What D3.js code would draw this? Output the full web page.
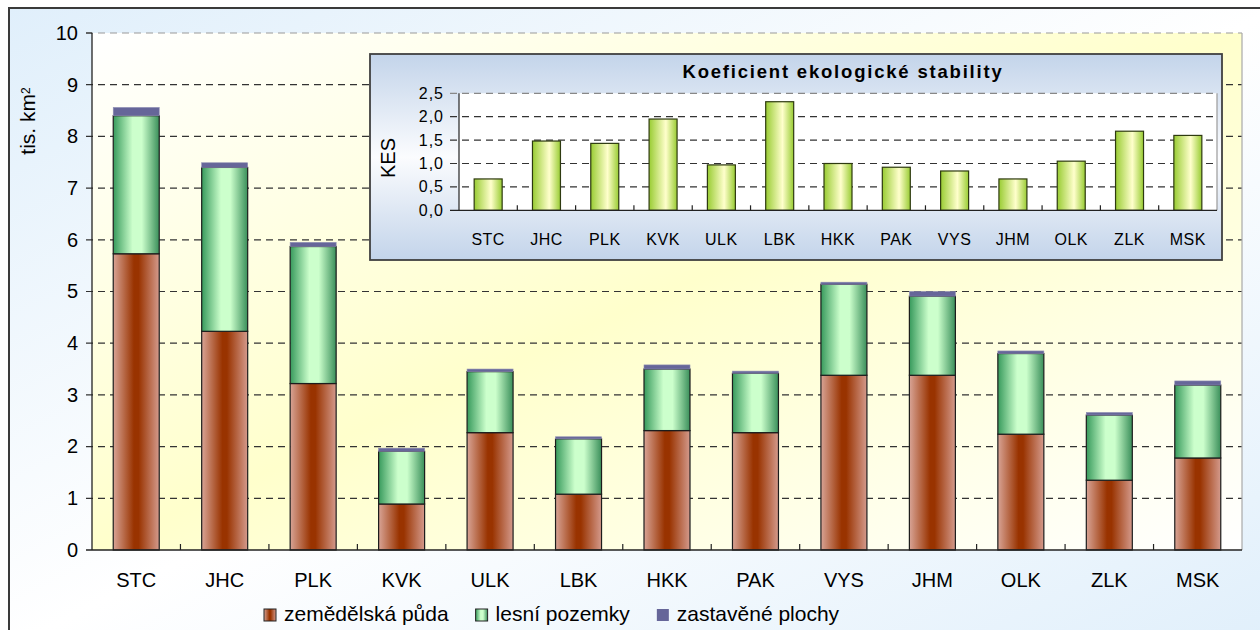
<!DOCTYPE html>
<html>
<head>
<meta charset="utf-8">
<script src="https://cdn.jsdelivr.net/npm/d3@7"></script>
<style>
  body { margin: 0; background: #fff; }
  text { font-family: "Liberation Sans", Arial, sans-serif; fill: #000; }
</style>
</head>
<body>
<svg id="svg" width="1260" height="630"></svg>
<script>
// regions (kraje) and land use, tis. km2
var kraje = ["STC", "JHC", "PLK", "KVK", "ULK", "LBK", "HKK", "PAK", "VYS", "JHM", "OLK", "ZLK", "MSK"];
var zemedelska = [5.73, 4.23, 3.22, 0.89, 2.27, 1.08, 2.31, 2.27, 3.38, 3.38, 2.24, 1.35, 1.78];
var lesni = [2.67, 3.17, 2.65, 1.02, 1.18, 1.07, 1.19, 1.15, 1.76, 1.53, 1.56, 1.26, 1.41];
var zastavene = [0.16, 0.09, 0.08, 0.06, 0.05, 0.04, 0.08, 0.04, 0.04, 0.09, 0.05, 0.05, 0.08];
var serie = ["zemědělská půda", "lesní pozemky", "zastavěné plochy"];
var yTicks = [0, 1, 2, 3, 4, 5, 6, 7, 8, 9, 10];

// koeficient ekologicke stability
var kes = [0.67, 1.48, 1.43, 1.95, 0.97, 2.32, 1.00, 0.92, 0.84, 0.67, 1.05, 1.69, 1.60];
var kesTicks = [0, 0.5, 1, 1.5, 2, 2.5];

var svg = d3.select("#svg");
var defs = svg.append("defs");

function grad(id, stops, x2, y2) {
  var g = defs.append("linearGradient").attr("id", id)
    .attr("x1", 0).attr("y1", 0).attr("x2", x2).attr("y2", y2);
  stops.forEach(function(s) {
    g.append("stop").attr("offset", s[0]).attr("stop-color", s[1]);
  });
}
grad("bgOuter", [[0, "#e0effb"], [0.5, "#ffffff"], [1, "#e0effb"]], 1, 1);
grad("bgPlot", [[0, "#ffffff"], [0.5, "#ffffcc"], [1, "#ffffff"]], 1, 1);
grad("bgInset", [[0, "#c3d4ea"], [0.5, "#fbfcfe"], [1, "#c3d4ea"]], 0, 1);
grad("gAgri", [[0, "#d8a496"], [0.45, "#993300"], [0.55, "#993300"], [1, "#d49a8c"]], 1, 0);
grad("gForest", [[0, "#379a5c"], [0.42, "#ccffcc"], [0.62, "#ccffcc"], [1, "#3a8f5a"]], 1, 0);
grad("gKes", [[0, "#99cc33"], [0.6, "#ffffcc"], [1, "#99cc33"]], 1, 0);

// outer background
svg.append("rect")
  .attr("x", 9).attr("y", 8).attr("width", 1270).attr("height", 640)
  .attr("fill", "url(#bgOuter)").attr("stroke", "#3a3a3a").attr("stroke-width", 2);

var pLeft = 92, pRight = 1242, pTop = 33, pBottom = 550;

var x = d3.scaleBand().domain(kraje).range([pLeft, pRight])
  .paddingInner(0.48).paddingOuter(0.24);
var y = d3.scaleLinear().domain([0, 10]).range([pBottom, pTop]);

svg.append("rect")
  .attr("x", pLeft).attr("y", pTop).attr("width", pRight - pLeft).attr("height", pBottom - pTop)
  .attr("fill", "url(#bgPlot)");

// gridlines
svg.append("g").selectAll("line")
  .data(yTicks.filter(function(d) { return d > 0; }))
  .enter().append("line")
  .attr("x1", pLeft - 6).attr("x2", pRight)
  .attr("y1", function(d) { return y(d); }).attr("y2", function(d) { return y(d); })
  .attr("stroke", function(d) { return d == 10 ? "#999" : "#333"; })
  .attr("stroke-width", 1.2)
  .attr("stroke-dasharray", "7,5");

// right border of plot
svg.append("line")
  .attr("x1", pRight).attr("x2", pRight).attr("y1", pTop).attr("y2", pBottom)
  .attr("stroke", "#a8a8a8").attr("stroke-width", 1.2);

// stacked bars
var rows = kraje.map(function(k, i) {
  return { kraj: k, a: zemedelska[i], b: lesni[i], c: zastavene[i] };
});
var stack = d3.stack().keys(["a", "b", "c"])(rows);
var fills = ["url(#gAgri)", "url(#gForest)", "#666699"];

stack.forEach(function(layer, li) {
  svg.append("g").selectAll("rect")
    .data(layer)
    .enter().append("rect")
    .attr("x", function(d) { return x(d.data.kraj); })
    .attr("width", x.bandwidth())
    .attr("y", function(d) { return y(d[1]); })
    .attr("height", function(d) { return y(d[0]) - y(d[1]); })
    .attr("fill", fills[li])
    .attr("stroke", li == 2 ? "#8d8db3" : "#1c1c1c")
    .attr("stroke-width", li == 2 ? 0.6 : 1.2);
});

// y axis
svg.append("line")
  .attr("x1", pLeft).attr("x2", pLeft).attr("y1", pTop).attr("y2", pBottom)
  .attr("stroke", "#222").attr("stroke-width", 1.3);
svg.append("line")
  .attr("x1", pLeft - 6).attr("x2", pRight).attr("y1", pBottom).attr("y2", pBottom)
  .attr("stroke", "#222").attr("stroke-width", 1.3);
svg.append("line")
  .attr("x1", pLeft - 6).attr("x2", pLeft).attr("y1", y(10)).attr("y2", y(10))
  .attr("stroke", "#222").attr("stroke-width", 1.2);

svg.append("g").selectAll("text")
  .data(yTicks).enter().append("text")
  .attr("x", 78).attr("y", function(d) { return y(d); })
  .attr("dy", "0.34em")
  .attr("text-anchor", "end")
  .style("font-size", "20px")
  .text(function(d) { return d; });

// category boundary ticks
var step = x.step();
svg.append("g").selectAll("line")
  .data(kraje.slice(1)).enter().append("line")
  .attr("x1", function(d) { return x(d) - (step - x.bandwidth()) / 2; })
  .attr("x2", function(d) { return x(d) - (step - x.bandwidth()) / 2; })
  .attr("y1", pBottom).attr("y2", pBottom - 6)
  .attr("stroke", "#222").attr("stroke-width", 1.2);

svg.append("g").selectAll("text")
  .data(kraje).enter().append("text")
  .attr("x", function(d) { return x(d) + x.bandwidth() / 2; })
  .attr("y", 587)
  .attr("text-anchor", "middle")
  .style("font-size", "20px")
  .text(function(d) { return d; });

// y title
var yt = svg.append("text")
  .attr("transform", "translate(35,121) rotate(-90)")
  .attr("text-anchor", "middle")
  .style("font-size", "21px");
yt.append("tspan").text("tis. km");
yt.append("tspan").attr("dy", "-0.45em").style("font-size", "12px").text("2");

// legend
var lg = svg.append("g");
var lx = 264;
serie.forEach(function(s, i) {
  lg.append("rect")
    .attr("x", lx).attr("y", 609).attr("width", 12).attr("height", 12)
    .attr("fill", fills[i])
    .attr("stroke", i == 2 ? "none" : "#222").attr("stroke-width", 1);
  var t = lg.append("text")
    .attr("x", lx + 20).attr("y", 621)
    .style("font-size", "21px")
    .text(s);
  lx = lx + 20 + t.node().getComputedTextLength() + 27;
});

// ---- inset: KES ----
var ins = svg.append("g");
ins.append("rect")
  .attr("x", 370).attr("y", 54).attr("width", 852).attr("height", 206)
  .attr("fill", "url(#bgInset)").attr("stroke", "#404040").attr("stroke-width", 1.8);

var il = 459, ir = 1217, itop = 93.3, ibot = 210.3;
var xi = d3.scaleBand().domain(kraje).range([il, ir])
  .paddingInner(0.52).paddingOuter(0.26);
var yi = d3.scaleLinear().domain([0, 2.5]).range([ibot, itop]);

ins.append("rect")
  .attr("x", il).attr("y", itop).attr("width", ir - il).attr("height", ibot - itop)
  .attr("fill", "#ffffff");
ins.append("line")
  .attr("x1", ir).attr("x2", ir).attr("y1", itop).attr("y2", ibot)
  .attr("stroke", "#9a9a9a").attr("stroke-width", 1.2);

ins.append("g").selectAll("line")
  .data(kesTicks.filter(function(d) { return d > 0; }))
  .enter().append("line")
  .attr("x1", il - 9).attr("x2", ir)
  .attr("y1", function(d) { return yi(d); }).attr("y2", function(d) { return yi(d); })
  .attr("stroke", function(d) { return d == 2.5 ? "#888" : "#333"; })
  .attr("stroke-width", 1.2)
  .attr("stroke-dasharray", "7,5");

ins.append("g").selectAll("rect")
  .data(kes).enter().append("rect")
  .attr("x", function(d, i) { return xi(kraje[i]); })
  .attr("width", xi.bandwidth())
  .attr("y", function(d) { return yi(d); })
  .attr("height", function(d) { return yi(0) - yi(d); })
  .attr("fill", "url(#gKes)")
  .attr("stroke", "#2e3a10").attr("stroke-width", 1.2);

ins.append("line")
  .attr("x1", il).attr("x2", il).attr("y1", itop).attr("y2", ibot)
  .attr("stroke", "#333").attr("stroke-width", 1.3);
ins.append("line")
  .attr("x1", il - 9).attr("x2", ir).attr("y1", ibot).attr("y2", ibot)
  .attr("stroke", "#222").attr("stroke-width", 1.3);

var istep = xi.step();
ins.append("g").selectAll("line")
  .data(kraje.slice(1)).enter().append("line")
  .attr("x1", function(d) { return xi(d) - (istep - xi.bandwidth()) / 2; })
  .attr("x2", function(d) { return xi(d) - (istep - xi.bandwidth()) / 2; })
  .attr("y1", ibot).attr("y2", ibot - 5)
  .attr("stroke", "#222").attr("stroke-width", 1.2);

ins.append("g").selectAll("text")
  .data(kesTicks).enter().append("text")
  .attr("x", 444).attr("y", function(d) { return yi(d); })
  .attr("dy", "0.34em")
  .attr("text-anchor", "end")
  .style("font-size", "16px")
  .style("letter-spacing", "1px")
  .text(function(d) { return d3.format(".1f")(d).replace(".", ","); });

ins.append("g").selectAll("text")
  .data(kraje).enter().append("text")
  .attr("x", function(d) { return xi(d) + xi.bandwidth() / 2; })
  .attr("y", 245)
  .attr("text-anchor", "middle")
  .style("font-size", "16px")
  .style("letter-spacing", "0.5px")
  .text(function(d) { return d; });

ins.append("text")
  .attr("transform", "translate(395,158) rotate(-90)")
  .attr("text-anchor", "middle")
  .style("font-size", "20px")
  .text("KES");

ins.append("text")
  .attr("x", 843).attr("y", 78)
  .attr("text-anchor", "middle")
  .style("font-size", "18.5px")
  .style("font-weight", "bold")
  .style("letter-spacing", "1.8px")
  .text("Koeficient ekologické stability");
</script>
</body>
</html>
